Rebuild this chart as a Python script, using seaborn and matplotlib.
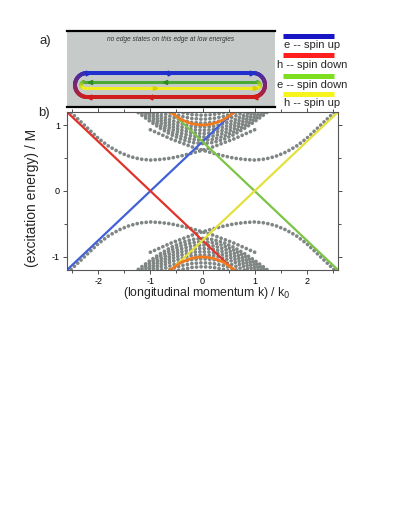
import numpy as np
import matplotlib
matplotlib.use("Agg")
import matplotlib.pyplot as plt
from matplotlib.collections import LineCollection
from matplotlib.colors import to_rgb
import seaborn as sns

# ---- values ----
# edge-state lines (k in units of k0, E in units of M)
blue_k = [-2.6, 0.6]
blue_E = [-1.2, 1.2]
red_k = [-2.6, 0.6]
red_E = [1.2, -1.2]
green_k = [-0.6, 2.6]
green_E = [1.2, -1.2]
yellow_k = [-0.6, 2.6]
yellow_E = [-1.2, 1.2]

# side band with its minimum near k = +1 (mirror one sits at k = -1)
side_k = [-1.0, -0.8, -0.6, -0.4, -0.2, 0.0, 0.2, 0.4, 0.6, 0.8, 1.0,
          1.2, 1.4, 1.6, 1.8, 2.0, 2.2, 2.4, 2.6]
side_E = [0.93, 0.86, 0.79, 0.73, 0.67, 0.62, 0.575, 0.535, 0.50, 0.48, 0.47,
          0.485, 0.525, 0.59, 0.68, 0.80, 0.95, 1.10, 1.25]

# dense bulk bands around k = 0 (half, k >= 0)
dense_k = [0.0, 0.2, 0.4, 0.6, 0.8, 1.0, 1.2, 1.3]
dense_E = [
    [0.72, 0.736, 0.783, 0.855, 0.948, 1.054, 1.171, 1.233],
    [0.77, 0.785, 0.829, 0.898, 0.986, 1.089, 1.203, 1.264],
    [0.82, 0.834, 0.876, 0.941, 1.026, 1.125, 1.235, 1.29],
    [0.87, 0.884, 0.923, 0.985, 1.066, 1.162, 1.27, 1.33],
    [0.92, 0.933, 0.970, 1.029, 1.107, 1.20, 1.31, 1.37],
    [0.97, 0.98, 1.02, 1.075, 1.15, 1.24, 1.35, 1.41],
    [1.03, 1.041, 1.075, 1.129, 1.20, 1.28, 1.39, 1.45],
    [1.09, 1.101, 1.133, 1.184, 1.25, 1.33, 1.44, 1.50],
    [1.15, 1.16, 1.191, 1.24, 1.30, 1.38, 1.50, 1.55],
]

# orange band (half, k >= 0)
orange_k = [0.0, 0.2, 0.4, 0.6, 0.7]
orange_E = [1.0, 1.02, 1.08, 1.19, 1.25]

xticks = [-2, -1, 0, 1, 2]
xtick_labels = ["-2", "-1", "0", "1", "2"]
yticks = [-1, 0, 1]
ytick_labels = ["-1", "0", "1"]

legend_labels = ["e -- spin up", "h -- spin down", "e -- spin down", "h -- spin up"]
legend_colors = ["#1616c4", "#ff1f1f", "#7ede20", "#f6f41c"]

W, H = 395, 511
GREY = "#7f8684"

sns.set_style("ticks")
plt.rcParams["font.family"] = ["Liberation Sans", "DejaVu Sans"]

fig = plt.figure(figsize=(W / 100, H / 100), dpi=100)


def mirror(k, E):
    k = np.asarray(k, float)
    E = np.asarray(E, float)
    return np.concatenate([-k[::-1], k[1:]]), np.concatenate([E[::-1], E[1:]])


dots = dict(color=GREY, lw=2.7, linestyle=(0, (0.01, 1.2)),
            dash_capstyle="round", sort=False, estimator=None)

# ---------------- panel b ----------------
ax = fig.add_axes([67 / W, 1 - 270 / H, 271 / W, 158 / H])

for sign in (1, -1):
    for row in dense_E:
        kk, ee = mirror(dense_k, row)
        sns.lineplot(x=kk, y=sign * ee, ax=ax, **dots)
    for flip in (1, -1):
        sns.lineplot(x=flip * np.array(side_k), y=sign * np.array(side_E), ax=ax, **dots)

for kk, ee, c in [(blue_k, blue_E, "#4161d6"), (red_k, red_E, "#e0332b"),
                  (green_k, green_E, "#7cc444"), (yellow_k, yellow_E, "#e4e03c")]:
    sns.lineplot(x=kk, y=ee, ax=ax, color=c, lw=1.6, sort=False, estimator=None)

ok, oe = mirror(orange_k, orange_E)
for sign in (1, -1):
    sns.lineplot(x=ok, y=sign * oe, ax=ax, color="#f27a1e", lw=2.0,
                 sort=False, estimator=None)

ax.set_xlim(-2.6, 2.6)
ax.set_ylim(-1.2, 1.2)
ax.set_xticks(xticks)
ax.set_xticklabels(xtick_labels)
ax.set_yticks(yticks)
ax.set_yticklabels(ytick_labels)
ax.set_xticks(np.arange(-2.5, 2.6, 1.0), minor=True)
ax.set_yticks([-0.5, 0.5], minor=True)
ax.tick_params(which="both", direction="out", top=True, right=True,
               width=0.6, colors="#333333", labelcolor="black", labelsize=6.5, pad=2)
ax.tick_params(which="major", length=3)
ax.tick_params(which="minor", length=2)
for s in ax.spines.values():
    s.set_linewidth(0.8)
    s.set_color("#555555")

ax.set_xlabel("(longitudinal momentum k) / k$_0$", fontsize=8.8)
ax.set_ylabel("(excitation energy) / M", fontsize=10)
ax.xaxis.set_label_coords((207 - 67) / 271, (270 - 285) / 158)
ax.yaxis.set_label_coords((39 - 67) / 271, (270 - 198) / 158)

# ---------------- panel a ----------------
axa = fig.add_axes([67 / W, 1 - 107 / H, 208 / W, 76 / H])
axa.set_xlim(67, 275)
axa.set_ylim(107, 31)
axa.set_facecolor("#c6cbca")
axa.set_xticks([])
axa.set_yticks([])
for side in ("left", "right"):
    axa.spines[side].set_visible(False)
for side in ("top", "bottom"):
    axa.spines[side].set_linewidth(1.6)
    axa.spines[side].set_color("black")

axa.text(171, 39, "no edge states on this edge at low energies", fontsize=4.8,
         style="italic", color="#333333", ha="center", va="center")


def grad_arc(a, cx, cy, r, a0, a1, c0, c1, lw, n=40):
    th = np.radians(np.linspace(a0, a1, n + 1))
    pts = np.column_stack([cx + r * np.cos(th), cy - r * np.sin(th)]).reshape(-1, 1, 2)
    segs = np.concatenate([pts[:-1], pts[1:]], axis=1)
    t = np.linspace(0, 1, n)[:, None]
    cols = (1 - t) * np.array(to_rgb(c0)) + t * np.array(to_rgb(c1))
    a.add_collection(LineCollection(segs, colors=cols, linewidths=lw, capstyle="round"))


# outer loop: electrons spin up (top) / holes spin down (bottom)
c_top, c_bot = "#2030cc", "#d01c1c"
axa.plot([87, 253], [73, 73], color=c_top, lw=2.9, solid_capstyle="butt")
axa.plot([87, 253], [97, 97], color=c_bot, lw=2.9, solid_capstyle="butt")
grad_arc(axa, 87, 85, 12, 90, 270, c_top, c_bot, 2.9)
grad_arc(axa, 253, 85, 12, 90, -90, c_top, c_bot, 2.9)
# inner loop: electrons spin down (top) / holes spin up (bottom)
g_top, g_bot = "#4aa834", "#f2ee1e"
axa.plot([84, 257], [82, 82], color=g_top, lw=2.2, solid_capstyle="butt")
axa.plot([84, 257], [88, 88], color=g_bot, lw=2.2, solid_capstyle="butt")
grad_arc(axa, 84, 85, 3, 90, 270, g_top, g_bot, 2.2)
grad_arc(axa, 257, 85, 3, 90, -90, g_top, g_bot, 2.2)

for x in (88, 170, 252):
    axa.plot(x, 73, marker=">", ms=3.5, color=c_top)
for x in (89, 150, 255):
    axa.plot(x, 97, marker="<", ms=3.5, color=c_bot)
for x in (90, 165):
    axa.plot(x, 82, marker="<", ms=3, color="#2e8a22")
for x in (155, 255):
    axa.plot(x, 88, marker=">", ms=3, color="#d8d000")

# ---------------- legend ----------------
axl = fig.add_axes([278 / W, 1 - 110 / H, 80 / W, 82 / H])
axl.set_xlim(278, 358)
axl.set_ylim(110, 28)
axl.axis("off")
bar_y = [36, 55, 76, 94]
text_y = [45, 65.5, 84.5, 103]
for lab, col, by, ty in zip(legend_labels, legend_colors, bar_y, text_y):
    axl.plot([283, 334], [by, by], color=col, lw=3.6, solid_capstyle="butt")
    axl.text(312.5, ty, lab, fontsize=8, ha="center", va="center")

fig.text(39 / W, 1 - 41 / H, "a)", fontsize=9.5, ha="left", va="center")
fig.text(38 / W, 1 - 113 / H, "b)", fontsize=9.5, ha="left", va="center")

fig.savefig("out.png", dpi=100)
